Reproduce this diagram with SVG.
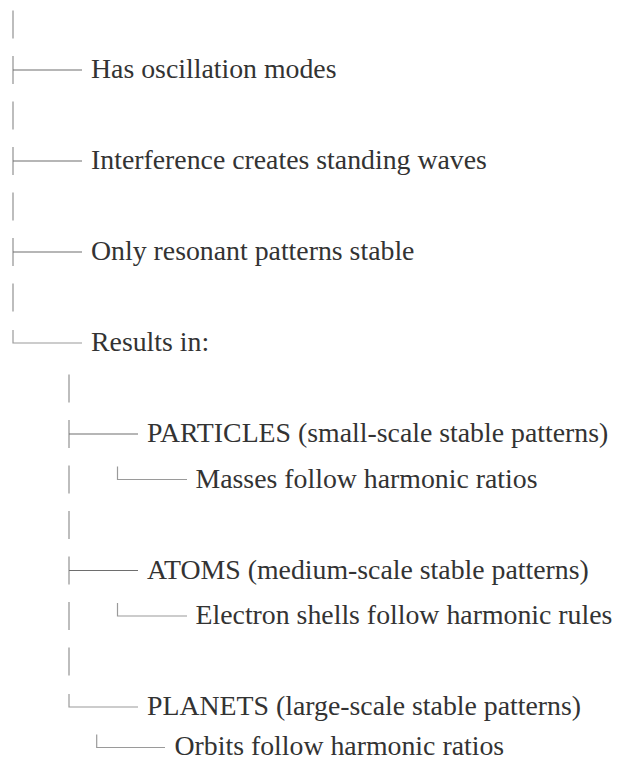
<svg xmlns="http://www.w3.org/2000/svg" width="618" height="762" viewBox="0 0 618 762">
<style>
.t{font-family:"Liberation Serif","Times New Roman",serif;font-size:27.8px;fill:#333;}
.v{stroke:#bdbdbd;stroke-width:2;fill:none;}
.h{stroke:#6e6e6e;stroke-width:1.2;fill:none;}
.c{stroke:#9a9a9a;stroke-width:1.2;fill:none;}
</style>
<rect width="618" height="762" fill="#fff"/>
<g id="connectors">
<line class="v" x1="13" y1="10.5" x2="13" y2="38.5"/>
<line class="v" x1="13" y1="56" x2="13" y2="84"/><line class="h" x1="13" y1="70" x2="82" y2="70"/>
<line class="v" x1="13" y1="101.5" x2="13" y2="129.5"/>
<line class="v" x1="13" y1="147" x2="13" y2="175"/><line class="h" x1="13" y1="161" x2="82" y2="161"/>
<line class="v" x1="13" y1="192.5" x2="13" y2="220.5"/>
<line class="v" x1="13" y1="238" x2="13" y2="266"/><line class="h" x1="13" y1="252" x2="82" y2="252"/>
<line class="v" x1="13" y1="283.5" x2="13" y2="311.5"/>
<path class="c" d="M13 330 V343 H82"/>
<line class="v" x1="69" y1="374.5" x2="69" y2="402.5"/>
<line class="v" x1="69" y1="420" x2="69" y2="448"/><line class="h" x1="69" y1="434" x2="138" y2="434"/>
<line class="v" x1="69" y1="465.5" x2="69" y2="493.5"/>
<path class="c" d="M117.5 466.5 V479.5 H187"/>
<line class="v" x1="69" y1="511" x2="69" y2="539"/>
<line class="v" x1="69" y1="556.5" x2="69" y2="584.5"/><line class="h" x1="69" y1="570.5" x2="138" y2="570.5"/>
<line class="v" x1="69" y1="602" x2="69" y2="630"/>
<path class="c" d="M117.5 603 V616 H187"/>
<line class="v" x1="69" y1="647.5" x2="69" y2="675.5"/>
<path class="c" d="M69 694 V707 H138"/>
<path class="c" d="M96.7 734.5 V747.5 H165"/>
</g>
<g id="n1"><text class="t" x="91" y="78">Has oscillation modes</text></g>
<g id="n2"><text class="t" x="91" y="169">Interference creates standing waves</text></g>
<g id="n3"><text class="t" x="91" y="260">Only resonant patterns stable</text></g>
<g id="n4"><text class="t" x="91" y="351">Results in:</text></g>
<g id="n5"><text class="t" x="147" y="442">PARTICLES (small-scale stable patterns)</text></g>
<g id="n6"><text class="t" x="195.5" y="487.5">Masses follow harmonic ratios</text></g>
<g id="n7"><text class="t" x="147" y="578.5">ATOMS (medium-scale stable patterns)</text></g>
<g id="n8"><text class="t" x="195.5" y="624">Electron shells follow harmonic rules</text></g>
<g id="n9"><text class="t" x="147" y="715">PLANETS (large-scale stable patterns)</text></g>
<g id="n10"><text class="t" x="174.5" y="755">Orbits follow harmonic ratios</text></g>
</svg>
